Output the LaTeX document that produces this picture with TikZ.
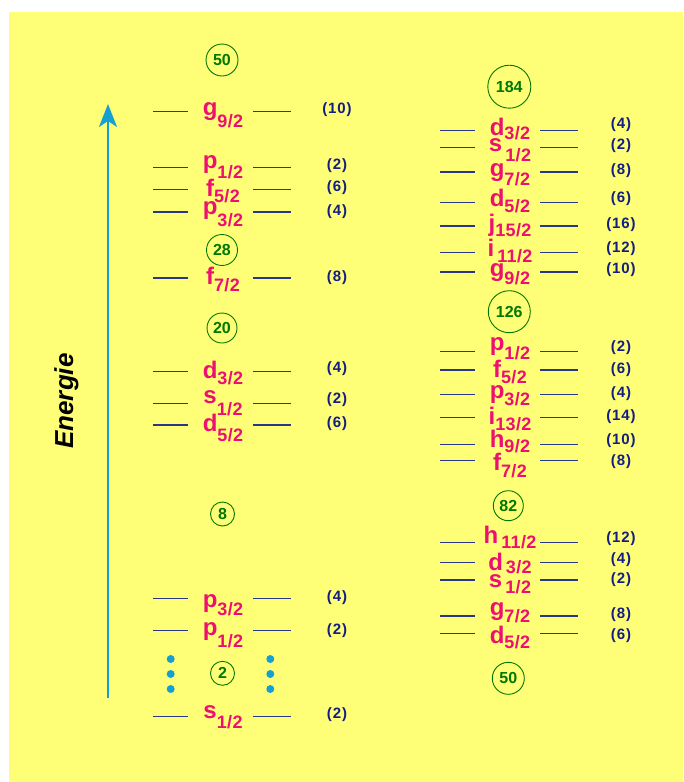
\documentclass[tikz,border=0pt]{standalone}
\usepackage{fontspec}
\setmainfont{Liberation Sans}
\usetikzlibrary{arrows.meta}
\definecolor{bgyellow}{RGB}{255,255,119}
\definecolor{labpink}{RGB}{236,16,112}
\definecolor{magicgreen}{RGB}{0,120,0}
\definecolor{degblue}{RGB}{20,30,130}
\definecolor{lineblue}{RGB}{40,55,135}
\definecolor{arrowcyan}{RGB}{22,160,210}
\tikzset{
  lvlline/.style={draw=lineblue, line width=1.2pt},
  lab/.style={anchor=base, inner sep=0pt, text=labpink, font=\fontsize{24}{26}\selectfont\bfseries},
  degn/.style={inner sep=0pt, text=degblue, font=\fontsize{15}{17}\selectfont\bfseries\addfontfeature{LetterSpace=6}},
  magic/.style={circle, draw=magicgreen, line width=0.9pt, inner sep=0pt, text=magicgreen, font=\fontsize{16}{18}\selectfont\bfseries},
  energy/.style={draw=arrowcyan, line width=1.8pt},
  dotc/.style={fill=arrowcyan, draw=none}
}
\newcommand\sublab[2]{\raisebox{-#1pt}{\fontsize{18}{20}\selectfont\bfseries\addfontfeature{LetterSpace=2}#2}}
% generic level: name, x-center, y-line, letter, subscript, base offset, sub drop, deg-x, deg-y
\newcommand\lvlgen[9]{%
  \draw[lvlline] (#2-69,#3) -- (#2-34,#3);
  \draw[lvlline] (#2+31,#3) -- (#2+69,#3);
  \node[lab] (#1) at (#2+1,#3+#6) {#4\sublab{#7}{#5}};
  \coordinate (#1dc) at (#8,#9);
}
% left: name, y-line, letter, sub, base offset, drop, deg-y, deg-text
\newcommand\lvlL[8]{\lvlgen{#1}{222}{#2}{#3}{#4}{#5}{#6}{337}{#7}\node[degn] (#1d) at (#1dc) {(#8)};}
\newcommand\lvlR[8]{\lvlgen{#1}{509}{#2}{#3}{#4}{#5}{#6}{621}{#7}\node[degn] (#1d) at (#1dc) {(#8)};}
\begin{document}
\begin{tikzpicture}[x=1pt,y=-1pt]
\useasboundingbox (0,0) rectangle (683,782);
\fill[white] (0,0) rectangle (683,782);
\fill[bgyellow] (9,12) rectangle (683,782);

% energy arrow
\coordinate (abot) at (108,698);
\coordinate (atop) at (108,104);
\draw[energy, -{Stealth[length=23pt,width=18pt,inset=6pt]}] (abot) -- (atop);
\node[rotate=90, anchor=base, inner sep=0pt, font=\fontsize{26}{28}\selectfont\bfseries\itshape] (elab) at (73,401) {Energie};

% left column
\node[magic, minimum size=32pt] (L50) at (222,60) {50};
\lvlL{Lg92}{111.7}{g}{9/2}{4}{11.5}{110}{10}
\lvlL{Lp12a}{167.7}{p}{1/2}{0.5}{10.5}{166}{2}
\lvlL{Lf52}{189.3}{f}{5/2}{7}{6.5}{187.7}{6}
\lvlL{Lp32a}{212}{p}{3/2}{2}{12}{212}{4}
\node[magic, minimum size=31pt] (L28) at (222,250) {28};
\lvlL{Lf72}{278}{f}{7/2}{6}{7.5}{278}{8}
\node[magic, minimum size=30pt] (L20) at (222,328) {20};
\lvlL{Ld32}{371.7}{d}{3/2}{6.5}{6.7}{369}{4}
\lvlL{Ls12a}{403.3}{s}{1/2}{0.5}{11.5}{400}{2}
\lvlL{Ld52}{425}{d}{5/2}{6.7}{9.5}{424}{6}
\node[magic, minimum size=24pt] (L8) at (222.5,514) {8};
\lvlL{Lp32b}{598.7}{p}{3/2}{9}{7.3}{597.5}{4}
\lvlL{Lp12b}{630.3}{p}{1/2}{5.5}{11.5}{631}{2}
\node[magic, minimum size=24pt] (L2) at (222.5,673.3) {2};
\lvlL{Ls12b}{716.7}{s}{1/2}{1.4}{10}{715}{2}
\foreach \yy in {659,674,689} {
  \fill[dotc] (170.7,\yy) circle (4);
  \fill[dotc] (270.3,\yy) circle (4);
}

% right column
\node[magic, minimum size=43pt] (R184) at (509.3,86.7) {184};
\lvlR{Rd32a}{130.7}{d}{3/2}{4.3}{4}{124.3}{4}
\lvlR{Rs12a}{147.7}{s}{\,1/2}{4}{9.5}{146}{2}
\lvlR{Rg72a}{172}{g}{7/2}{4.4}{9.5}{171}{8}
\lvlR{Rd52a}{202.7}{d}{5/2}{3.3}{6.7}{198.7}{6}
\lvlR{Rj152}{226}{j}{15/2}{5}{5.7}{224.3}{16}
\lvlR{Ri112}{252.7}{i}{\,11/2}{4}{6}{248.3}{12}
\lvlR{Rg92}{272}{g}{9/2}{4.4}{7.6}{270}{10}
\node[magic, minimum size=42pt] (R126) at (509.3,311.7) {126};
\lvlR{Rp12}{351.7}{p}{1/2}{-1.5}{9.5}{347.3}{2}
\lvlR{Rf52}{370}{f}{5/2}{7.5}{5.6}{370}{6}
\lvlR{Rp32}{394.3}{p}{3/2}{3.8}{7}{393.3}{4}
\lvlR{Ri132}{417.7}{i}{13/2}{7}{5.3}{416.7}{14}
\lvlR{Rh92}{444.7}{h}{9/2}{3}{5}{441}{10}
\lvlR{Rf72}{460.7}{f}{7/2}{10}{6.3}{461.7}{8}
\node[magic, minimum size=30pt] (R82) at (508.3,505.7) {82};
\lvlR{Rh112}{542.7}{h}{\,11/2}{0.6}{5}{538.3}{12}
\lvlR{Rd32b}{562.3}{d}{\,3/2}{7.7}{3.3}{560}{4}
\lvlR{Rs12b}{580}{s}{\,1/2}{7.4}{6}{579.3}{2}
\lvlR{Rg72b}{616}{g}{7/2}{-0.6}{7.3}{614.3}{8}
\lvlR{Rd52b}{633.3}{d}{5/2}{10.5}{5}{636}{6}
\node[magic, minimum size=32pt] (R50) at (508.3,678.3) {50};
\end{tikzpicture}
\end{document}
